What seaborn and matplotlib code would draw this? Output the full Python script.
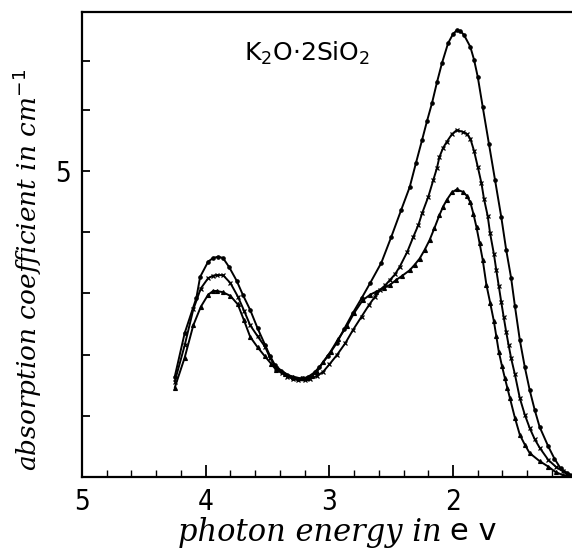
import numpy as np
import pandas as pd
import matplotlib
matplotlib.use("Agg")
import matplotlib.pyplot as plt
import seaborn as sns
from matplotlib.ticker import FixedLocator

# ---- data (photon energy in eV, absorption coefficient in cm^-1) ----
e_dot = [4.25, 4.17, 4.075, 4.045, 3.98, 3.94, 3.90, 3.86, 3.81, 3.75, 3.70, 3.64, 3.58,
         3.52, 3.48, 3.44, 3.39, 3.34, 3.29, 3.25, 3.21, 3.17, 3.12, 3.08, 3.01, 2.94,
         2.88, 2.81, 2.74, 2.67, 2.58, 2.50, 2.42, 2.35, 2.30, 2.25, 2.21, 2.17, 2.13,
         2.09, 2.04, 2.00, 1.97, 1.94, 1.91, 1.86, 1.83, 1.80, 1.76, 1.71, 1.66, 1.61,
         1.57, 1.53, 1.50, 1.46, 1.42, 1.38, 1.34, 1.30, 1.23, 1.18, 1.13, 1.08, 1.04]
a_dot = [1.64, 2.35, 2.93, 3.27, 3.52, 3.58, 3.60, 3.58, 3.43, 3.21, 2.98, 2.73, 2.43,
         2.16, 1.98, 1.83, 1.74, 1.67, 1.62, 1.60, 1.61, 1.64, 1.71, 1.80, 1.98, 2.19,
         2.42, 2.68, 2.92, 3.17, 3.50, 3.92, 4.36, 4.74, 5.13, 5.51, 5.82, 6.11, 6.45,
         6.76, 7.09, 7.24, 7.30, 7.29, 7.22, 7.03, 6.82, 6.54, 6.05, 5.45, 4.85, 4.25,
         3.71, 3.25, 2.80, 2.24, 1.80, 1.42, 1.10, 0.82, 0.50, 0.30, 0.14, 0.07, 0.03]

e_x = [4.25, 4.17, 4.10, 4.04, 3.98, 3.94, 3.91, 3.86, 3.80, 3.74, 3.69, 3.64, 3.58,
       3.52, 3.48, 3.43, 3.38, 3.34, 3.29, 3.25, 3.20, 3.16, 3.10, 3.05, 3.00, 2.94,
       2.87, 2.81, 2.74, 2.68, 2.63, 2.59, 2.55, 2.51, 2.47, 2.43, 2.37, 2.32, 2.28,
       2.25, 2.20, 2.16, 2.13, 2.11, 2.08, 2.05, 2.01, 1.97, 1.92, 1.89, 1.86, 1.83,
       1.80, 1.77, 1.75, 1.72, 1.70, 1.67, 1.65, 1.63, 1.61, 1.59, 1.57, 1.55, 1.53,
       1.50, 1.46, 1.42, 1.38, 1.34, 1.30, 1.23, 1.17, 1.11, 1.07, 1.04]
a_x = [1.56, 2.15, 2.74, 3.08, 3.25, 3.29, 3.30, 3.30, 3.17, 2.95, 2.72, 2.48, 2.30,
       2.13, 1.95, 1.78, 1.70, 1.64, 1.60, 1.585, 1.58, 1.60, 1.65, 1.72, 1.84, 1.99,
       2.19, 2.40, 2.62, 2.81, 2.95, 3.06, 3.13, 3.22, 3.31, 3.44, 3.68, 3.93, 4.12,
       4.31, 4.58, 4.85, 5.05, 5.23, 5.38, 5.48, 5.60, 5.67, 5.64, 5.61, 5.53, 5.33,
       5.07, 4.80, 4.55, 4.27, 3.98, 3.65, 3.38, 3.12, 2.86, 2.61, 2.37, 2.15, 1.94,
       1.68, 1.29, 1.02, 0.80, 0.62, 0.48, 0.28, 0.17, 0.09, 0.04, 0.02]

e_tri = [4.25, 4.17, 4.10, 4.04, 3.98, 3.94, 3.91, 3.86, 3.80, 3.74, 3.69, 3.64, 3.58,
         3.52, 3.47, 3.43, 3.36, 3.29, 3.23, 3.18, 3.14, 3.10, 3.05, 2.99, 2.93, 2.86,
         2.80, 2.73, 2.67, 2.62, 2.56, 2.51, 2.46, 2.41, 2.35, 2.31, 2.27, 2.23, 2.19,
         2.15, 2.11, 2.08, 2.05, 2.01, 1.97, 1.92, 1.89, 1.86, 1.835, 1.81, 1.785, 1.76,
         1.73, 1.70, 1.67, 1.65, 1.63, 1.605, 1.58, 1.56, 1.54, 1.50, 1.46, 1.42, 1.38,
         1.30, 1.23, 1.17, 1.11, 1.04]
a_tri = [1.46, 1.95, 2.48, 2.78, 2.98, 3.04, 3.04, 3.02, 2.96, 2.82, 2.56, 2.29, 2.12,
         1.97, 1.85, 1.75, 1.68, 1.64, 1.61, 1.61, 1.65, 1.72, 1.88, 2.05, 2.25, 2.46,
         2.68, 2.89, 2.98, 3.03, 3.09, 3.14, 3.22, 3.29, 3.38, 3.47, 3.57, 3.71, 3.87,
         4.07, 4.28, 4.42, 4.53, 4.65, 4.70, 4.66, 4.60, 4.49, 4.30, 4.08, 3.82, 3.55,
         3.14, 2.85, 2.55, 2.30, 2.05, 1.82, 1.61, 1.45, 1.29, 0.97, 0.69, 0.53, 0.39,
         0.26, 0.17, 0.08, 0.03, 0.0]

x_major = [5, 4, 3, 2]
x_major_labels = ["5", "4", "3", "2"]
x_minor = [4.8, 4.6, 4.4, 4.2, 3.8, 3.6, 3.4, 3.2, 2.8, 2.6, 2.4, 2.2, 1.8, 1.6, 1.4, 1.2]
y_ticks = [1, 2, 3, 4, 5, 6, 6.8]
y_labelled = 5
title = "K$_2$O$\\cdot$2SiO$_2$"

series = [
    (pd.DataFrame({"E": e_dot, "alpha": a_dot}), "o", 2.4),
    (pd.DataFrame({"E": e_x, "alpha": a_x}), "x", 3.4),
    (pd.DataFrame({"E": e_tri, "alpha": a_tri}), "^", 2.8),
]

sns.set_style("white")
plt.rcParams.update({"text.color": "black", "xtick.color": "black", "ytick.color": "black",
                     "axes.labelcolor": "black", "mathtext.fontset": "dejavusans"})
fig = plt.figure(figsize=(5.72, 5.55), dpi=100)
ax = fig.add_axes([82 / 572, 1 - 477 / 555, 1 - 82 / 572, (477 - 12) / 555])

for d, mk, ms in series:
    sns.lineplot(data=d, x="E", y="alpha", marker=mk, markersize=ms, markeredgewidth=0.9,
                 markerfacecolor="black", markeredgecolor="black",
                 color="black", linewidth=1.4, estimator=None, sort=True, ax=ax)

ax.set_xlim(5, 1.038)
ax.set_ylim(0, 7.6)

ax.xaxis.set_major_locator(FixedLocator(x_major))
ax.set_xticklabels(x_major_labels)
ax.xaxis.set_minor_locator(FixedLocator(x_minor))
ax.yaxis.set_major_locator(FixedLocator(y_ticks))
ax.set_yticklabels([str(y_labelled) if t == y_labelled else "" for t in y_ticks])

ax.tick_params(axis="x", which="major", direction="in", length=9, width=1.3, labelsize=20,
               pad=8, bottom=True, colors="black")
ax.tick_params(axis="x", which="minor", direction="in", length=5, width=1.0, bottom=True,
               colors="black")
ax.tick_params(axis="y", which="major", direction="in", length=6, width=1.3, labelsize=20,
               pad=8, left=True, colors="black")
for lab in ax.get_xticklabels() + ax.get_yticklabels():
    lab.set_fontfamily("DejaVu Sans")
    lab.set_fontweight("light")
    lab.set_fontstretch("condensed")

for s in ["left", "bottom", "top"]:
    ax.spines[s].set_visible(True)
    ax.spines[s].set_color("black")
    ax.spines[s].set_linewidth(1.6)
ax.spines["right"].set_visible(False)

ax.set_xlabel("")
ax.set_ylabel("")

ax.text(3.18, 6.93, title, fontsize=18, ha="center", va="center", family="DejaVu Sans",
        color="black")

fig.text(27 / 572, 1 - 270 / 555, "absorption coefficient in cm$^{-1}$", rotation=90,
         ha="center", va="center", fontsize=19, family="DejaVu Serif", style="italic")
fig.text(310 / 572, 1 - 533 / 555, "photon energy in", ha="center", va="center",
         fontsize=22, family="DejaVu Serif", style="italic")
fig.text(473 / 572, 1 - 531 / 555, "e v", ha="center", va="center", fontsize=22,
         family="DejaVu Sans")

fig.savefig("out.png", dpi=100, facecolor="white")
